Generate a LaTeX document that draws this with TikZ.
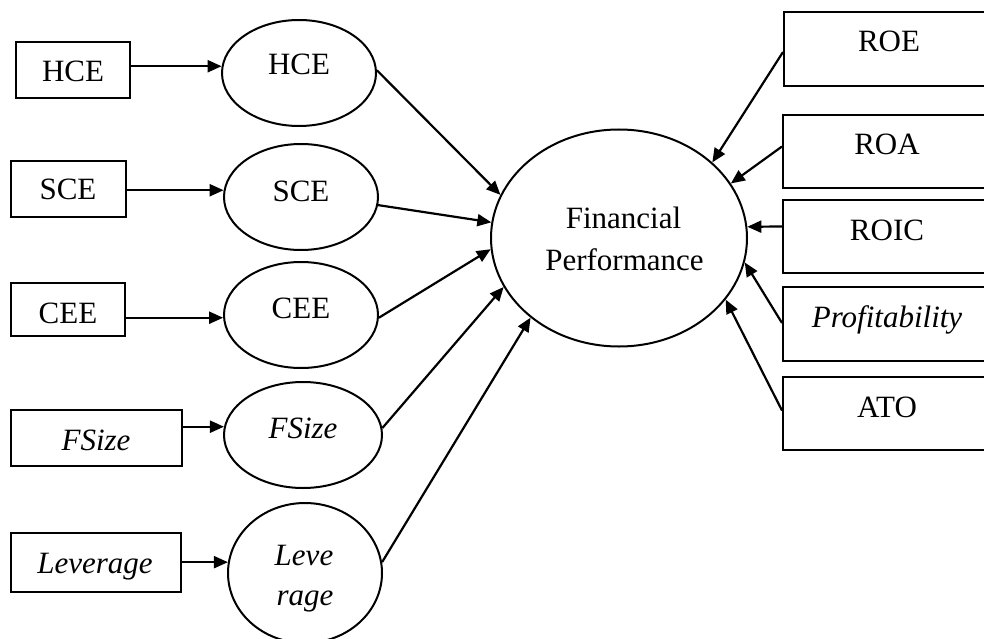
\documentclass[tikz,border=0pt]{standalone}
\usepackage{fontspec}
\setmainfont{Liberation Serif}
\usetikzlibrary{shapes.geometric,arrows.meta}
\begin{document}
\begin{tikzpicture}[x=1pt,y=-1pt,
  every node/.style={font=\fontsize{31}{37}\selectfont},
  box/.style={draw,line width=2pt,rectangle,inner sep=0pt},
  ell/.style={draw,line width=2pt,ellipse,inner sep=0pt},
  lbl/.style={anchor=base,inner sep=0pt},
  arr/.style={line width=2.2pt,-{Triangle[length=14pt,width=12pt]}}]
\clip (0,0) rectangle (984,639);
% left boxes
\node[box,minimum width=114pt,minimum height=56pt] (b1) at (73,70) {};
\node[box,minimum width=115pt,minimum height=56pt] (b2) at (68.5,189) {};
\node[box,minimum width=114pt,minimum height=53pt] (b3) at (68,309.5) {};
\node[box,minimum width=171pt,minimum height=56pt] (b4) at (96.5,438) {};
\node[box,minimum width=170pt,minimum height=59pt] (b5) at (96,562.5) {};
\node[lbl] (b1t) at (73,82) {HCE};
\node[lbl] (b2t) at (68,200) {SCE};
\node[lbl] (b3t) at (68,323) {CEE};
\node[lbl] (b4t) at (96,450) {\itshape FSize};
\node[lbl] (b5t) at (95,573) {\itshape Leverage};
% left ellipses
\node[ell,minimum width=154pt,minimum height=106pt] (e1) at (299,73) {};
\node[ell,minimum width=154pt,minimum height=106pt] (e2) at (301,197) {};
\node[ell,minimum width=154pt,minimum height=106pt] (e3) at (301,315) {};
\node[ell,minimum width=158pt,minimum height=106pt] (e4) at (303,435) {};
\node[ell,minimum width=154pt,minimum height=140pt] (e5) at (305,573) {};
\node[lbl] (e1t) at (299,75) {HCE};
\node[lbl] (e2t) at (301,201) {SCE};
\node[lbl] (e3t) at (301,318) {CEE};
\node[lbl] (e4t) at (303,438) {\itshape FSize};
\node[lbl] (e5t) at (304,565) {\itshape Leve};
\node[lbl] (e5u) at (305,605) {\itshape rage};
% central ellipse
\node[ell,minimum width=256pt,minimum height=217pt] (fp) at (619,238) {};
\node[lbl] (fpt1) at (623.5,228) {Financial};
\node[lbl] (fpt2) at (624.5,270) {Performance};
% right boxes
\node[box,minimum width=210pt,minimum height=74pt] (r1) at (889,49) {};
\node[box,minimum width=210pt,minimum height=73pt] (r2) at (888,151.5) {};
\node[box,minimum width=210pt,minimum height=73pt] (r3) at (888,236.5) {};
\node[box,minimum width=210pt,minimum height=74pt] (r4) at (888,324) {};
\node[box,minimum width=210pt,minimum height=73pt] (r5) at (888,413.5) {};
\node[lbl] (r1t) at (889,52) {ROE};
\node[lbl] (r2t) at (887,155) {ROA};
\node[lbl] (r3t) at (887,240) {ROIC};
\node[lbl] (r4t) at (887,327) {\itshape Profitability};
\node[lbl] (r5t) at (887,417) {ATO};
% arrows box -> ellipse
\draw[arr] (b1.east |- e1.175) -- (e1.175);
\draw[arr] (b2.east |- e2.175) -- (e2.175);
\draw[arr] (b3.east |- e3.182) -- (e3.182);
\draw[arr] (b4.east |- e4.174) -- (e4.174);
\draw[arr] (b5.east |- e5.172) -- (e5.172);
% arrows ellipse -> FP
\draw[arr] (e1.2) -- (fp.160);
\draw[arr] (e2.-6) -- (fp.173);
\draw[arr] (e3.-2) -- (fp.185);
\draw[arr] (e4.5) -- (fp.203);
\draw[arr] (e5.8) -- (fp.222);
% arrows right boxes -> FP
\draw[arr] ([yshift=-3pt]r1.west) -- (fp.39);
\draw[arr] ([yshift=5pt]r2.west) -- (fp.26);
\draw[arr] ([yshift=10pt]r3.west) -- (fp.5);
\draw[arr] ([yshift=1pt]r4.west) -- (fp.-11);
\draw[arr] ([yshift=3pt]r5.west) -- (fp.-30);
\end{tikzpicture}
\end{document}
